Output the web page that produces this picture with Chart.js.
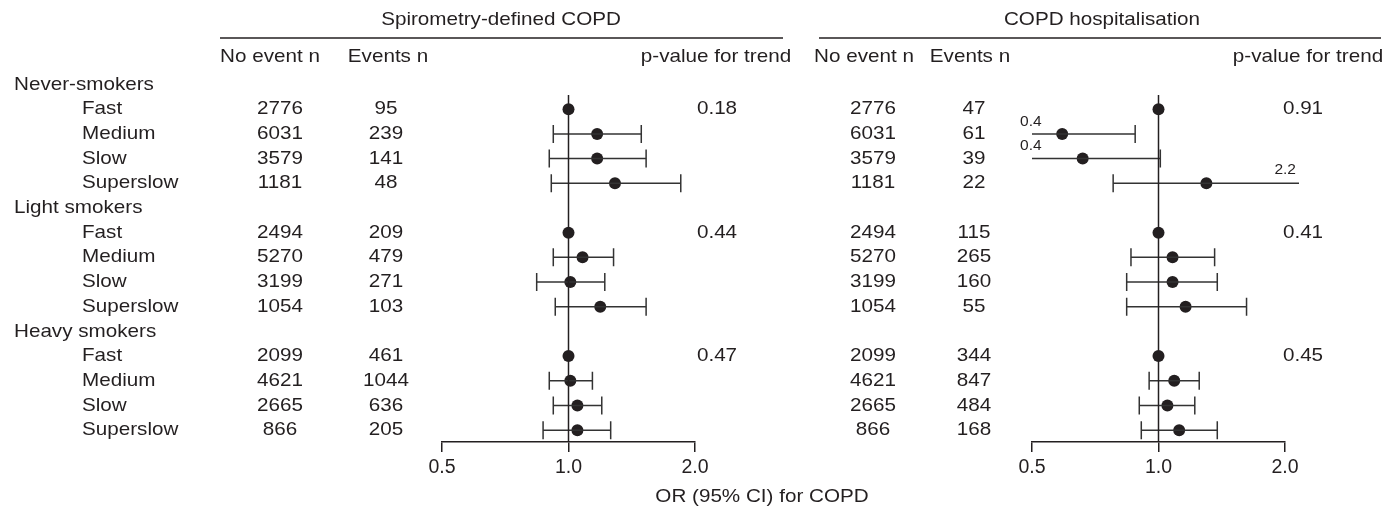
<!DOCTYPE html>
<html>
<head>
<meta charset="utf-8">
<script src="https://cdn.jsdelivr.net/npm/chart.js@4.4.1/dist/chart.umd.min.js"></script>
<style>
body { margin: 0; background: #fff; }
#wrap { position: relative; width: 1396px; height: 508px; }
#wrap canvas { position: absolute; left: 0; top: 0; }
</style>
</head>
<body>
<div id="wrap">
  <canvas id="spiroChart" width="1396" height="508"></canvas>
  <canvas id="hospChart" width="1396" height="508"></canvas>
</div>
<script>
// data
const groups = ['Never-smokers', 'Light smokers', 'Heavy smokers'];
const speeds = ['Fast', 'Medium', 'Slow', 'Superslow'];
const noEventN = [2776, 6031, 3579, 1181, 2494, 5270, 3199, 1054, 2099, 4621, 2665, 866];

const spiroEvents = [95, 239, 141, 48, 209, 479, 271, 103, 461, 1044, 636, 205];
const spiroOR = [1, 1.17, 1.17, 1.29, 1, 1.08, 1.01, 1.19, 1, 1.01, 1.05, 1.05];
const spiroLo = [null, 0.92, 0.90, 0.91, null, 0.92, 0.84, 0.93, null, 0.90, 0.92, 0.87];
const spiroHi = [null, 1.49, 1.53, 1.85, null, 1.28, 1.22, 1.53, null, 1.14, 1.20, 1.26];
const spiroP = ['0.18', '0.44', '0.47'];

const hospEvents = [47, 61, 39, 22, 115, 265, 160, 55, 344, 847, 484, 168];
const hospOR = [1, 0.59, 0.66, 1.30, 1, 1.08, 1.08, 1.16, 1, 1.09, 1.05, 1.12];
const hospLo = [null, 0.4, 0.4, 0.78, null, 0.86, 0.84, 0.84, null, 0.95, 0.90, 0.91];
const hospHi = [null, 0.88, 1.01, 2.2, null, 1.36, 1.38, 1.62, null, 1.25, 1.22, 1.38];
const hospP = ['0.91', '0.41', '0.45'];

const xTicks = [0.5, 1.0, 2.0];
const xTitle = 'OR (95% CI) for COPD';

const INK = '#231f20';
const FONT = '"Liberation Sans", Arial, sans-serif';
Chart.defaults.font.family = FONT;
Chart.defaults.color = INK;

// row index on the y scale: group header, then four speeds
const rowOf = i => Math.floor(i / 4) * 5 + 1 + (i % 4);

function txt(ctx, s, x, y, align, size) {
  ctx.save();
  ctx.font = size + 'px ' + FONT;
  ctx.fillStyle = INK;
  ctx.textAlign = align;
  ctx.textBaseline = 'middle';
  ctx.translate(x, y);
  ctx.scale(1.11, 1);   // the figure's type is a little wide
  ctx.fillText(s, 0, 0);
  ctx.restore();
}

function hline(ctx, x1, x2, y) {
  ctx.save();
  ctx.strokeStyle = INK;
  ctx.lineWidth = 1.5;
  ctx.beginPath();
  ctx.moveTo(x1, y);
  ctx.lineTo(x2, y);
  ctx.stroke();
  ctx.restore();
}

function makePanel(id, p) {
  const xMin = xTicks[0], xMax = xTicks[xTicks.length - 1];
  const datasets = [];

  // vertical line at OR = 1
  datasets.push({
    type: 'line',
    data: [{ x: 1, y: 0.42 }, { x: 1, y: 14.48 }],
    borderColor: INK, borderWidth: 1.5, pointRadius: 0
  });

  // CI whiskers
  p.or.forEach((v, i) => {
    if (p.lo[i] == null) return;
    datasets.push({
      type: 'line',
      data: [{ x: p.lo[i], y: rowOf(i) }, { x: p.hi[i], y: rowOf(i) }],
      borderColor: '#333', borderWidth: 1.5, pointRadius: 0,
      clip: { left: 0, top: false, right: 14, bottom: false }
    });
  });

  // caps, only where the interval ends inside the axis
  const caps = [];
  p.or.forEach((v, i) => {
    if (p.lo[i] == null) return;
    if (p.lo[i] >= xMin) caps.push({ x: p.lo[i], y: rowOf(i) });
    if (p.hi[i] <= xMax) caps.push({ x: p.hi[i], y: rowOf(i) });
  });
  datasets.push({
    type: 'scatter', data: caps,
    pointStyle: 'line', rotation: 90, pointRadius: 9,
    borderColor: '#333', pointBorderWidth: 1.5
  });

  // point estimates
  datasets.push({
    type: 'scatter',
    data: p.or.map((v, i) => ({ x: v, y: rowOf(i) })),
    pointRadius: 6, backgroundColor: INK, borderWidth: 0
  });

  const textPlugin = {
    id: 'tableText',
    afterDraw(chart) {
      const ctx = chart.ctx;
      const y = chart.scales.y;
      const area = chart.chartArea;
      txt(ctx, p.title, p.titleX, 20, 'center', 18.6);
      hline(ctx, p.lineX[0], p.lineX[1], 38);
      p.headers.forEach(h => txt(ctx, h[0], h[1], 57, 'center', 18.6));

      if (p.rowLabels) {
        groups.forEach((g, gi) => txt(ctx, g, 14, y.getPixelForValue(gi * 5), 'left', 18.6));
        noEventN.forEach((n, i) => txt(ctx, speeds[i % 4], 82, y.getPixelForValue(rowOf(i)), 'left', 18.6));
        txt(ctx, xTitle, 762, 497, 'center', 18.6);
      }
      noEventN.forEach((n, i) => {
        const py = y.getPixelForValue(rowOf(i));
        txt(ctx, String(n), p.nX, py, 'center', 18.6);
        txt(ctx, String(p.events[i]), p.eX, py, 'center', 18.6);
      });
      p.pvals.forEach((v, gi) => txt(ctx, v, p.pX, y.getPixelForValue(gi * 5 + 1), 'center', 18.6));

      // labels for intervals running off the axis
      p.or.forEach((v, i) => {
        if (p.lo[i] == null) return;
        const py = y.getPixelForValue(rowOf(i));
        if (p.lo[i] < xMin) txt(ctx, p.lo[i].toFixed(1), area.left - 12, py - 12, 'left', 14);
        if (p.hi[i] > xMax) txt(ctx, p.hi[i].toFixed(1), area.right + 11, py - 13, 'right', 14);
      });
    }
  };

  return new Chart(document.getElementById(id), {
    type: 'scatter',
    data: { datasets },
    options: {
      responsive: false,
      animation: false,
      events: [],
      layout: { padding: { left: p.left, right: 1396 - p.right, top: 6, bottom: 0 } },
      plugins: { legend: { display: false }, tooltip: { enabled: false } },
      scales: {
        x: {
          type: 'logarithmic',
          min: xMin, max: xMax,
          afterBuildTicks: s => { s.ticks = xTicks.map(v => ({ value: v })); },
          afterFit: s => { s.height = 66; },
          grid: { drawOnChartArea: false, drawTicks: true, tickLength: 10, color: INK, lineWidth: 1.5 },
          border: { display: true, color: INK, width: 1.5 },
          ticks: {
            autoSkip: false, maxRotation: 0, padding: 4,
            font: { size: 19.5 }, color: INK,
            callback: v => Number(v).toFixed(1)
          }
        },
        y: { type: 'linear', reverse: true, min: -3, max: 14.48, display: false }
      }
    },
    plugins: [textPlugin]
  });
}

makePanel('spiroChart', {
  title: 'Spirometry-defined COPD', titleX: 501, lineX: [220, 783],
  headers: [['No event n', 270], ['Events n', 388], ['p-value for trend', 716]],
  nX: 280, eX: 386, pX: 717,
  left: 442, right: 695,
  events: spiroEvents, or: spiroOR, lo: spiroLo, hi: spiroHi, pvals: spiroP,
  rowLabels: true
});

makePanel('hospChart', {
  title: 'COPD hospitalisation', titleX: 1102, lineX: [819, 1381],
  headers: [['No event n', 864], ['Events n', 970], ['p-value for trend', 1308]],
  nX: 873, eX: 974, pX: 1303,
  left: 1032, right: 1285,
  events: hospEvents, or: hospOR, lo: hospLo, hi: hospHi, pvals: hospP,
  rowLabels: false
});
</script>
</body>
</html>
